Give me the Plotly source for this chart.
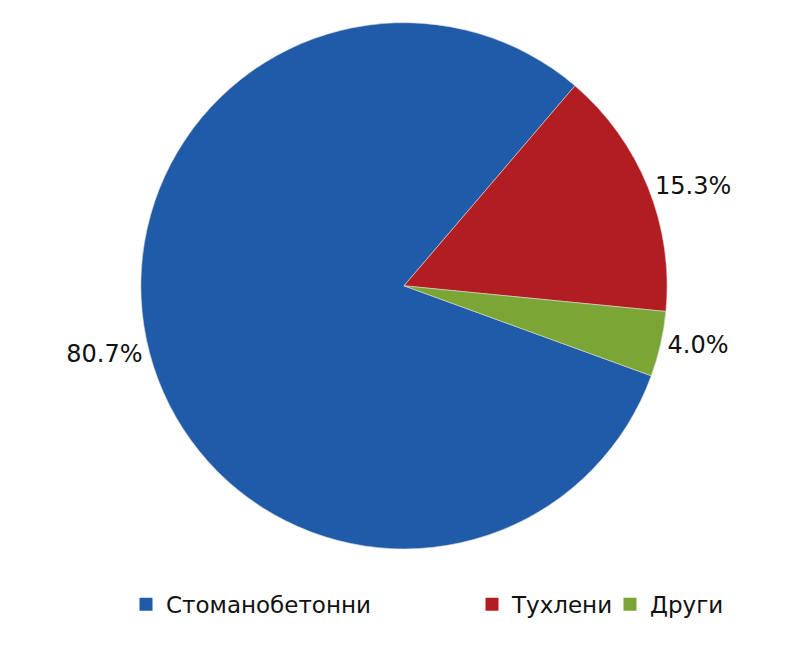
import plotly.graph_objects as go

labels = ["Стоманобетонни", "Тухлени", "Други"]
shares = [80.7, 15.3, 4.0]
colors = ["#1F5BA8", "#B11D20", "#7BA636"]

fig = go.Figure()

fig.add_trace(go.Pie(
    labels=labels, values=shares,
    sort=False, direction="clockwise", rotation=110,
    marker=dict(colors=colors, line=dict(color="#d8d8d8", width=0.6)),
    texttemplate="%{value:.1f}%", textposition="outside",
    textfont=dict(size=24, color="#111111"),
    domain=dict(x=[0.0, 0.99], y=[0.189, 0.978]),
    hoverinfo="label+percent",
    showlegend=False,
))

# legend entries with their own spacing (one per category)
entry_widths = [301, 93, 80]
for lab, col, w in zip(labels, colors, entry_widths):
    fig.add_trace(go.Scatter(
        x=[None], y=[None], mode="markers", name=lab,
        marker=dict(symbol="square", color=col, size=13),
        legendwidth=w, hoverinfo="skip",
    ))

fig.update_layout(
    width=800, height=667,
    margin=dict(l=0, r=0, t=0, b=0, autoexpand=False),
    paper_bgcolor="white", plot_bgcolor="white",
    font=dict(family="DejaVu Sans, Verdana, sans-serif", size=23, color="#111111"),
    xaxis=dict(visible=False), yaxis=dict(visible=False),
    showlegend=True,
    legend=dict(orientation="h", x=0.1475, xanchor="left", y=0.106, yanchor="middle",
                font=dict(size=23)),
)

fig.write_html("out.html")
